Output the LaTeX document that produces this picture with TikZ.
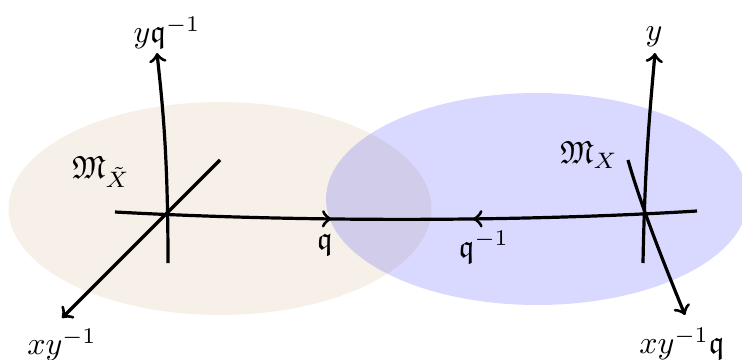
\documentclass[tikz,border=0pt]{standalone}
\usepackage{amssymb}
\usetikzlibrary{decorations.markings}
\begin{document}
\begin{tikzpicture}[x=0.3125pt,y=-0.3125pt,
  axis/.style={line width=1pt,black},
  lbl/.style={inner sep=0pt}]
\useasboundingbox (0,0) rectangle (742,360);
% regions
\fill[brown,opacity=0.12] (220,208.5) ellipse [x radius=211.5, y radius=106.5];
\fill[blue,opacity=0.15] (537,199) ellipse [x radius=211, y radius=106];
% coordinates
\coordinate (lh) at (115,212);
\coordinate (rh) at (697,211);
\coordinate (lvb) at (168,263);
\coordinate (lvt) at (157,53);
\coordinate (ldt) at (220,160);
\coordinate (ldb) at (62,318);
\coordinate (rvb) at (643,263);
\coordinate (rvt) at (655,53);
\coordinate (rdt) at (628,160);
\coordinate (rdb) at (685,315);
% main curve
\draw[axis,postaction={decorate},decoration={markings,
   mark=at position 0.372 with {\arrow{>}},
   mark=at position 0.615 with {\arrowreversed{>}}}]
  (lh) .. controls (300,222) and (520,222) .. (rh);
% left cross
\draw[axis,->] (lvb) .. controls (168,150) and (162,100) .. (lvt);
\draw[axis,->] (ldt) -- (ldb);
% right cross
\draw[axis,->] (rvb) .. controls (645,160) and (650,110) .. (rvt);
\draw[axis,->] (rdt) .. controls (636,188) and (650,230) .. (rdb);
% labels
\node[lbl] (t1) at (167,33) {$y\mathfrak{q}^{-1}$};
\node[lbl] (t2) at (62,345) {$xy^{-1}$};
\node[lbl] (t3) at (101,172) {$\mathfrak{M}_{\tilde X}$};
\node[lbl] (t4) at (325,245) {$\mathfrak{q}$};
\node[lbl] (t5) at (484,247) {$\mathfrak{q}^{-1}$};
\node[lbl] (t6) at (654,37) {$y$};
\node[lbl] (t7) at (589,155) {$\mathfrak{M}_X$};
\node[lbl] (t8) at (682,344) {$xy^{-1}\mathfrak{q}$};
\end{tikzpicture}
\end{document}
